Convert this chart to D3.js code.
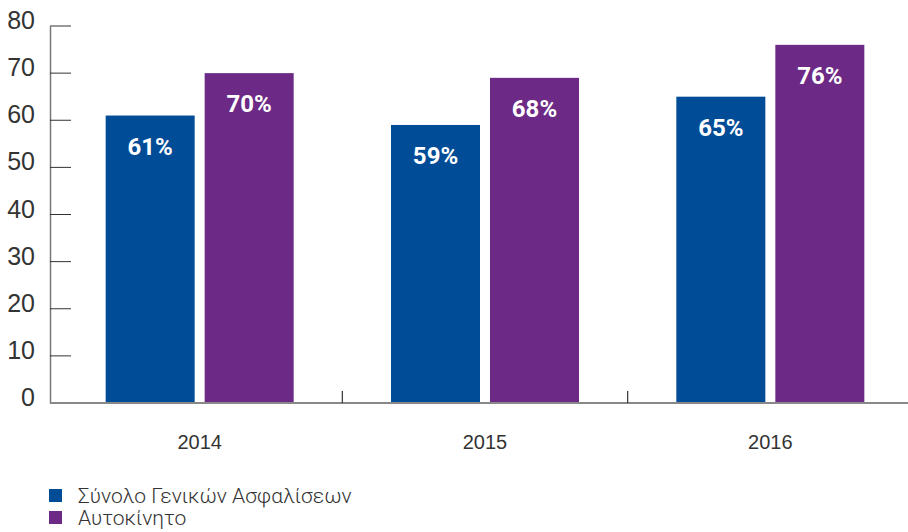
<!DOCTYPE html>
<html>
<head>
<meta charset="utf-8">
<script src="https://cdn.jsdelivr.net/npm/d3@7"></script>
<style>
  body { margin: 0; background: #fff; }
  svg { display: block; font-family: Roboto, "Noto Sans", sans-serif; }
</style>
</head>
<body>
<svg id="chart" width="908" height="532"></svg>
<script>
// data (bar heights, and the printed labels)
var years = ['2014', '2015', '2016'];
var seriesNames = ['Σύνολο Γενικών Ασφαλίσεων', 'Αυτοκίνητο'];
var totalValues = [61, 59, 65];
var carValues = [70, 69, 76];
var totalLabels = ['61%', '59%', '65%'];
var carLabels = ['70%', '68%', '76%'];
var yTicks = [0, 10, 20, 30, 40, 50, 60, 70, 80];
var colors = ['#004c97', '#6c2a86'];

var svg = d3.select('#chart');

var baseY = 403, topY = 26, axisX = 50;

var y = d3.scaleLinear().domain([0, 80]).range([baseY, topY]);
var x0 = d3.scaleBand().domain(years).range([57, 913]);
var x1 = d3.scaleBand().domain(seriesNames).range([0, 188]).paddingInner(0.101);
var groupOffset = (x0.bandwidth() - 188) / 2;

var rows = years.map(function(yr, i) {
  return {
    year: yr,
    values: [totalValues[i], carValues[i]],
    labels: [totalLabels[i], carLabels[i]]
  };
});

// y axis
var yAxis = d3.axisLeft(y).tickValues(yTicks).tickSize(0).tickPadding(15);
var yG = svg.append('g')
    .attr('transform', 'translate(' + axisX + ',0)')
    .call(yAxis);
yG.select('.domain').attr('stroke', '#777').attr('stroke-width', 1.5);
yG.selectAll('.tick text')
    .attr('dy', '0.1em')
    .attr('font-size', 25).attr('font-weight', 300).attr('fill', '#333');

// short gridline stubs
svg.append('g').selectAll('line')
  .data(yTicks.filter(function(d) { return d > 0; }))
  .join('line')
    .attr('x1', axisX).attr('x2', axisX + 21)
    .attr('y1', function(d) { return y(d); })
    .attr('y2', function(d) { return y(d); })
    .attr('stroke', '#333').attr('stroke-width', 1);

// bars
var groups = svg.append('g').selectAll('g')
  .data(rows)
  .join('g')
    .attr('transform', function(d) { return 'translate(' + (x0(d.year) + groupOffset) + ',0)'; });

function barData(d) {
  return d.values.map(function(v, i) {
    return { name: seriesNames[i], value: v, label: d.labels[i], i: i };
  });
}

groups.selectAll('rect')
  .data(barData)
  .join('rect')
    .attr('x', function(d) { return x1(d.name); })
    .attr('y', function(d) { return y(d.value); })
    .attr('width', x1.bandwidth())
    .attr('height', function(d) { return baseY - y(d.value); })
    .attr('fill', function(d) { return colors[d.i]; });

groups.selectAll('text')
  .data(barData)
  .join('text')
    .attr('x', function(d) { return x1(d.name) + x1.bandwidth() / 2; })
    .attr('y', function(d) { return y(d.value) + 39; })
    .attr('text-anchor', 'middle')
    .attr('font-size', 24).attr('font-weight', 700).attr('fill', '#fff')
    .text(function(d) { return d.label; });

// x axis
var xAxis = d3.axisBottom(x0).tickSize(0).tickPadding(32);
var xG = svg.append('g')
    .attr('transform', 'translate(0,' + baseY + ')')
    .call(xAxis);
xG.select('.domain').remove();
xG.selectAll('.tick text')
    .attr('font-size', 20).attr('font-weight', 300).attr('fill', '#333');

svg.append('line')
    .attr('x1', axisX).attr('x2', 908)
    .attr('y1', baseY).attr('y2', baseY)
    .attr('stroke', '#888').attr('stroke-width', 2);

// separators between years
svg.append('g').selectAll('line')
  .data(years.slice(1))
  .join('line')
    .attr('x1', function(d) { return x0(d); })
    .attr('x2', function(d) { return x0(d); })
    .attr('y1', baseY - 12).attr('y2', baseY)
    .attr('stroke', '#333').attr('stroke-width', 1.2);

// legend
var legend = svg.append('g').selectAll('g')
  .data(seriesNames)
  .join('g')
    .attr('transform', function(d, i) { return 'translate(49,' + (489 + i * 22) + ')'; });
legend.append('rect')
    .attr('width', 13).attr('height', 13)
    .attr('fill', function(d, i) { return colors[i]; });
legend.append('text')
    .attr('x', 29).attr('y', 14)
    .attr('font-size', 21).attr('font-weight', 300).attr('fill', '#333')
    .text(function(d) { return d; });
</script>
</body>
</html>
